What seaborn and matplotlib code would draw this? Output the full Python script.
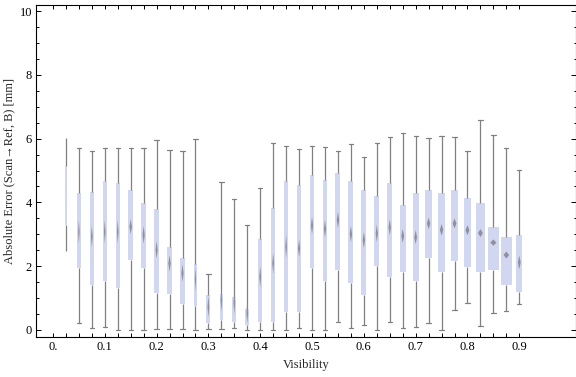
import numpy as np
import pandas as pd
import seaborn as sns
import matplotlib.pyplot as plt
from matplotlib.patches import Polygon
from matplotlib.ticker import FixedLocator, MultipleLocator

# box-whisker summary per visibility bin
visibility = [0.025, 0.05, 0.075, 0.1, 0.125, 0.15, 0.175, 0.2, 0.225,
              0.25, 0.275, 0.3, 0.325, 0.35, 0.375, 0.4, 0.425, 0.45,
              0.475, 0.5, 0.525, 0.55, 0.575, 0.6, 0.625, 0.65, 0.675,
              0.7, 0.725, 0.75, 0.775, 0.8, 0.825, 0.85, 0.875, 0.9]
w_low = [2.49, 0.22, 0.05, 0.08, 0.00, 0.00, 0.00, 0.04, 0.02,
         0.02, 0.00, 0.02, 0.02, 0.05, 0.00, 0.00, 0.00, 0.00,
         0.05, 0.00, 0.00, 0.24, 0.05, 0.15, 0.00, 0.24, 0.05,
         0.08, 0.21, 0.00, 0.63, 0.85, 0.12, 0.52, 0.59, 0.81]
q1 = [3.29, 1.94, 1.42, 1.53, 1.31, 2.19, 1.95, 1.17, 1.14,
      0.82, 0.76, 0.23, 0.32, 0.26, 0.17, 0.26, 0.26, 0.57,
      0.57, 1.95, 1.53, 1.89, 1.46, 1.11, 2.00, 1.67, 1.83,
      1.54, 2.27, 1.83, 2.17, 1.98, 1.83, 1.88, 1.42, 1.18]
median = [4.25, 3.08, 2.93, 3.08, 3.08, 3.24, 2.98, 2.51, 2.09,
          1.78, 1.59, 0.73, 0.94, 0.86, 0.54, 1.67, 2.09, 2.61,
          2.56, 3.28, 3.17, 3.45, 3.01, 2.82, 3.03, 3.22, 2.95,
          2.91, 3.34, 3.14, 3.34, 3.13, 3.04, 2.74, 2.35, 2.12]
q3 = [5.14, 4.29, 4.33, 4.66, 4.61, 4.39, 3.97, 3.78, 2.60,
      2.26, 2.08, 1.10, 1.13, 1.03, 0.67, 2.85, 3.82, 4.67,
      4.54, 4.85, 4.70, 4.91, 4.66, 4.38, 4.20, 4.60, 3.92,
      4.29, 4.39, 4.29, 4.39, 4.14, 3.98, 3.23, 2.92, 2.98]
w_high = [6.01, 5.70, 5.60, 5.70, 5.70, 5.70, 5.70, 5.95, 5.63,
          5.60, 5.98, 1.77, 4.63, 4.10, 3.28, 4.44, 5.85, 5.76,
          5.66, 5.76, 5.73, 5.61, 5.82, 5.44, 5.85, 6.04, 6.18,
          6.07, 6.01, 6.07, 6.04, 5.60, 6.57, 6.10, 5.70, 5.01]
# relative sample size per bin (sets the box width)
n_rel = [15, 27, 33, 30, 30, 47, 40, 40, 43,
         40, 23, 33, 30, 30, 33, 33, 33, 30,
         40, 40, 40, 43, 43, 43, 40, 43, 50,
         50, 60, 60, 70, 70, 87, 110, 100, 50]

xticks = [0.0, 0.1, 0.2, 0.3, 0.4, 0.5, 0.6, 0.7, 0.8, 0.9]
xticklabels = ["0.", "0.1", "0.2", "0.3", "0.4", "0.5", "0.6", "0.7", "0.8", "0.9"]

# five values per bin reproduce min/q1/median/q3/max exactly with whis=(0, 100)
rows = []
for v, a, b, c, d, e in zip(visibility, w_low, q1, median, q3, w_high):
    for val in (a, b, c, d, e):
        rows.append({"vis": v, "err": val})
df = pd.DataFrame(rows)

sns.set_style("ticks")
plt.rcParams["font.family"] = ["Liberation Serif", "DejaVu Serif"]

fig = plt.figure(figsize=(5.76, 3.77), dpi=100)
ax = fig.add_axes([0.0630, 0.1053, 0.9365, 0.8822])

box_color = "#ccd4f6"
line_color = "#808080"
px_x = 518.1   # pixels per x unit
px_y = 31.87   # pixels per y unit

for i, v in enumerate(visibility):
    wpx = n_rel[i] / 10
    narrow = wpx < 2
    wdat = (wpx + (0 if narrow else 0.7)) / px_x
    cap = 0 if narrow else 4.3 / px_x
    sns.boxplot(data=df[df["vis"] == v], x="vis", y="err", orient="x",
                native_scale=True, width=wdat, whis=(0, 100),
                color=box_color, linecolor=line_color, linewidth=0.9,
                showfliers=False, ax=ax,
                boxprops=dict(edgecolor=box_color, linewidth=0),
                medianprops=dict(linewidth=0),
                capwidths=cap)
    if not narrow:
        hw = 0.28 * wpx / px_x
        hh = min(12, 35 / wpx) / px_y
        m = median[i]
        ax.add_patch(Polygon([(v, m - hh), (v + hw, m), (v, m + hh), (v - hw, m)],
                             closed=True, facecolor="#85858f", edgecolor="none",
                             alpha=0.85, zorder=5))

ax.set_xlim(-0.0322, 1.0089)
ax.set_ylim(-0.229, 10.2)

ax.xaxis.set_major_locator(FixedLocator(xticks))
ax.set_xticklabels(xticklabels)
ax.xaxis.set_minor_locator(FixedLocator([v for v in visibility if round(v * 40) % 4 != 0]))
ax.yaxis.set_major_locator(MultipleLocator(2))
ax.yaxis.set_minor_locator(MultipleLocator(0.5))

ax.tick_params(axis="both", which="both", direction="in", top=True, right=True,
               width=0.7, colors="black", labelsize=9, pad=3)
ax.tick_params(axis="x", which="both", length=3.0)
ax.tick_params(axis="y", which="major", length=3.6)
ax.tick_params(axis="y", which="minor", length=1.8)
for s in ax.spines.values():
    s.set_visible(True)
    s.set_linewidth(0.8)
    s.set_color("black")

ax.set_xlabel("Visibility", fontsize=9, labelpad=4)
ax.set_ylabel("Absolute Error (Scan\u2192Ref, B) [mm]", fontsize=9, labelpad=3)

fig.savefig("out.png", dpi=100)
